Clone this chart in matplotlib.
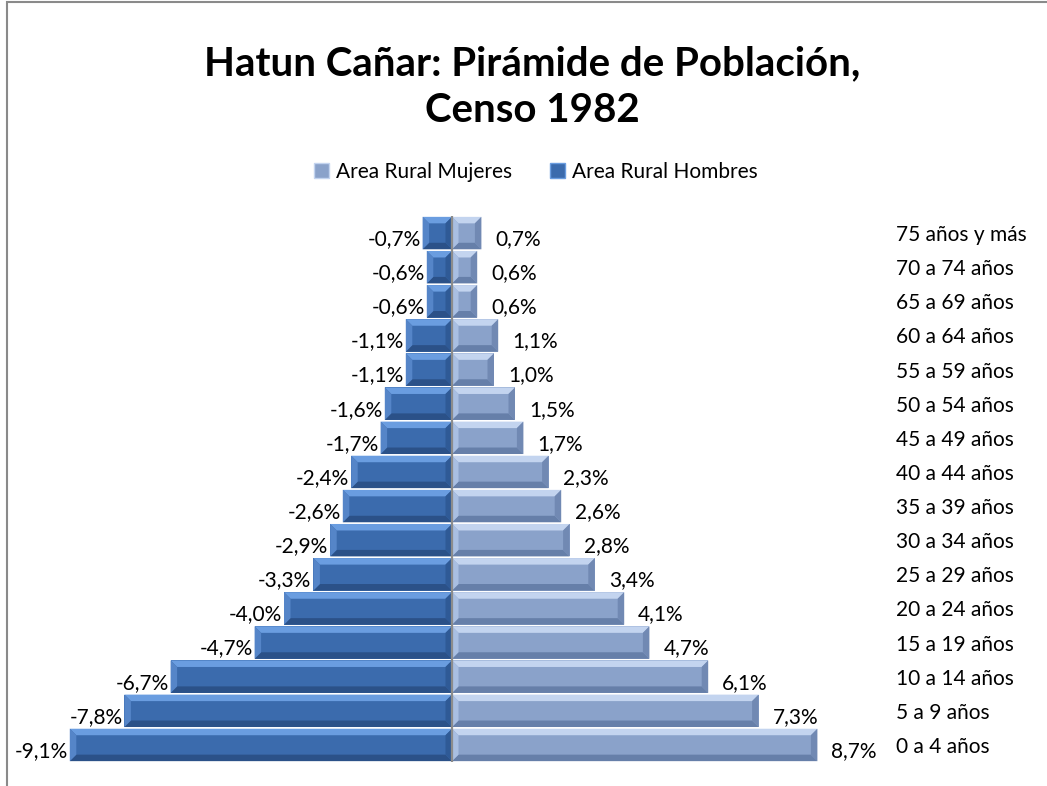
import matplotlib
matplotlib.use("Agg")
import matplotlib.pyplot as plt
from matplotlib.patches import Polygon, Rectangle, Patch

categories = ["0 a 4 años", "5 a 9 años", "10 a 14 años", "15 a 19 años", "20 a 24 años",
              "25 a 29 años", "30 a 34 años", "35 a 39 años", "40 a 44 años", "45 a 49 años",
              "50 a 54 años", "55 a 59 años", "60 a 64 años", "65 a 69 años", "70 a 74 años",
              "75 años y más"]
hombres = [-9.1, -7.8, -6.7, -4.7, -4.0, -3.3, -2.9, -2.6, -2.4, -1.7, -1.6, -1.1, -1.1, -0.6, -0.6, -0.7]
mujeres = [8.7, 7.3, 6.1, 4.7, 4.1, 3.4, 2.8, 2.6, 2.3, 1.7, 1.5, 1.0, 1.1, 0.6, 0.6, 0.7]
title = "Hatun Cañar: Pirámide de Población,\nCenso 1982"
label_m = "Area Rural Mujeres"
label_h = "Area Rural Hombres"

FONT = ["Lato", "DejaVu Sans"]
plt.rcParams['font.family'] = FONT

W, H = 1047, 786
fig = plt.figure(figsize=(W / 100, H / 100), dpi=100)
ax = fig.add_axes([32 / W, (H - 762) / H, 840 / W, 546 / H])
xmin, xmax = -10, 10
ymin, ymax = -0.5, len(categories) - 0.5
ax.set_xlim(xmin, xmax)
ax.set_ylim(ymin, ymax)

pos = ax.get_position()
px_x = pos.width * W / (xmax - xmin)
px_y = pos.height * H / (ymax - ymin)

men_cols = dict(face="#3b6bad", top="#6a9de0", bottom="#2b5188", left="#5585c8", right="#2f5a96")
wom_cols = dict(face="#8aa2ca", top="#c3d4ef", bottom="#667fa9", left="#a9bfe2", right="#7189b3")

bh = 0.95
bev = 6.5

def bevel_bar(y, v, cols):
    x0, x1 = min(0, v), max(0, v)
    yb, yt = y - bh / 2, y + bh / 2
    dx = min(bev / px_x, (x1 - x0) / 2.2)
    dy = bev / px_y
    ax.barh(y, v, height=bh, color=cols["face"], linewidth=0, zorder=2)
    polys = [
        ([(x0, yt), (x1, yt), (x1 - dx, yt - dy), (x0 + dx, yt - dy)], cols["top"]),
        ([(x0, yb), (x1, yb), (x1 - dx, yb + dy), (x0 + dx, yb + dy)], cols["bottom"]),
        ([(x0, yb), (x0, yt), (x0 + dx, yt - dy), (x0 + dx, yb + dy)], cols["left"]),
        ([(x1, yb), (x1, yt), (x1 - dx, yt - dy), (x1 - dx, yb + dy)], cols["right"]),
    ]
    for pts, c in polys:
        ax.add_patch(Polygon(pts, closed=True, facecolor=c, edgecolor="none", zorder=3))

def fmt(v):
    return f"{v:.1f}%".replace(".", ",")

FS = 15
for i, (h, m) in enumerate(zip(hombres, mujeres)):
    bevel_bar(i, h, men_cols)
    bevel_bar(i, m, wom_cols)
    ax.annotate(fmt(h), (h, i), xytext=(-2, -6), textcoords="offset pixels",
                ha="right", va="center", fontsize=FS, color="black")
    ax.annotate(fmt(m), (m, i), xytext=(14, -6), textcoords="offset pixels",
                ha="left", va="center", fontsize=FS, color="black")

ax.axvline(0, color="#8c8c8c", lw=1.6, zorder=4, ymin=0, ymax=1.0)

ax.set_yticks(range(len(categories)))
ax.set_yticklabels(categories, fontsize=FS)
ax.yaxis.tick_right()
ax.tick_params(axis="y", length=0, pad=17)
ax.set_xticks([])
for s in ax.spines.values():
    s.set_visible(False)

fig.text(532 / W, 1 - 87 / H, title, ha="center", va="center", fontsize=29,
         fontweight="bold", linespacing=1.3)

handles = [Patch(facecolor=wom_cols["face"], edgecolor=wom_cols["top"], lw=1),
           Patch(facecolor=men_cols["face"], edgecolor=men_cols["top"], lw=1)]
fig.legend(handles, [label_m, label_h], loc="center", bbox_to_anchor=(536 / W, 1 - 172 / H),
           ncol=2, frameon=False, fontsize=FS, handlelength=0.7, handleheight=0.7,
           handletextpad=0.35, columnspacing=1.8)

fig.patches.append(Rectangle((7 / W, -0.1), 1.2, 1.1 - 1.5 / H, transform=fig.transFigure,
                             fill=False, edgecolor="#8a8a8a", lw=1.5, zorder=0))

fig.savefig("out.png", dpi=100, facecolor="white")
